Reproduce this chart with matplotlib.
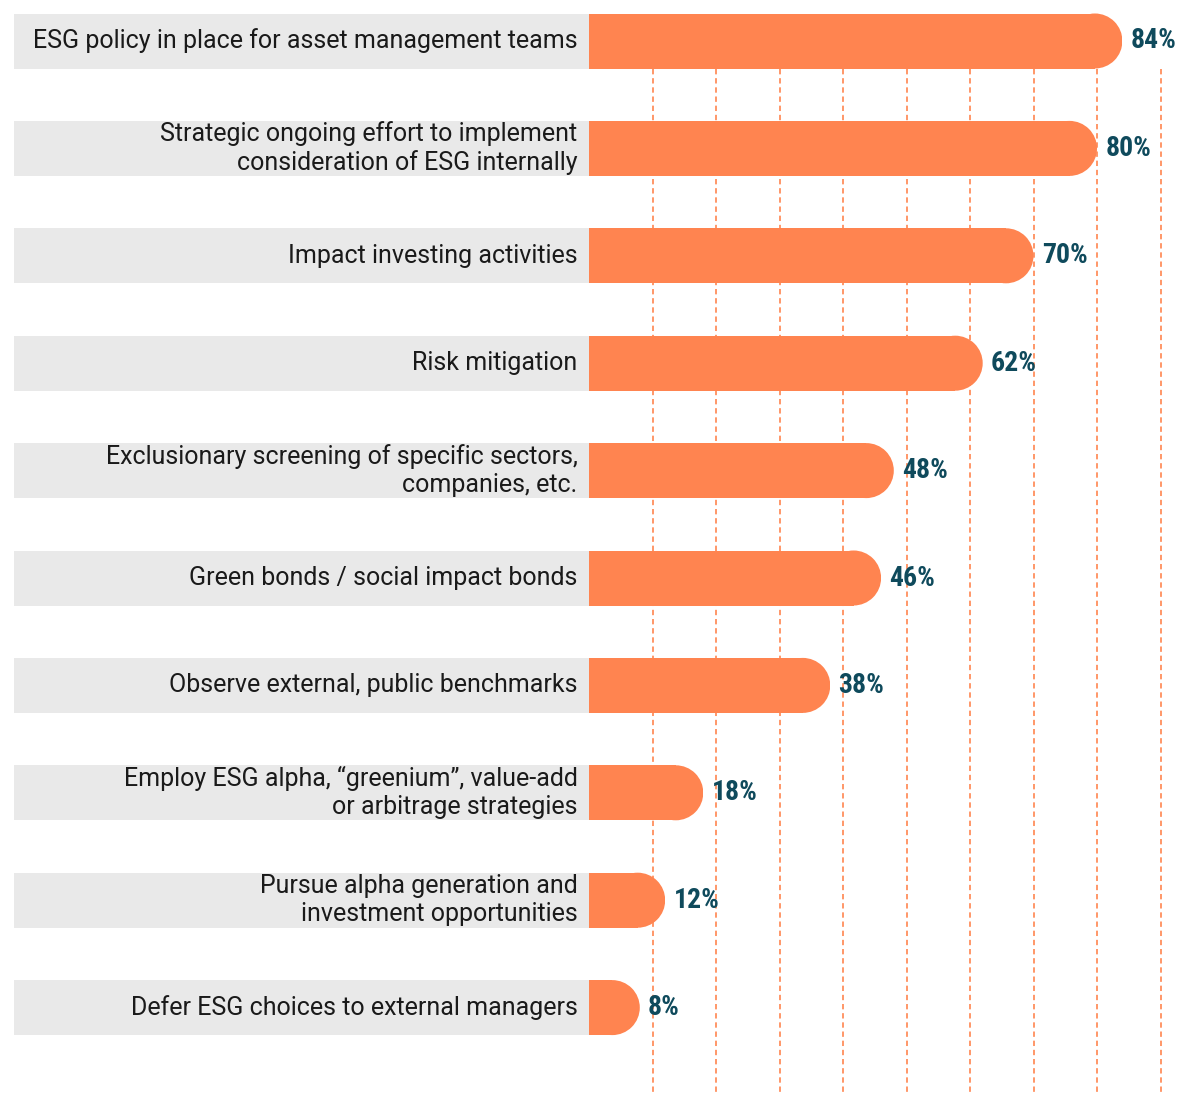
import matplotlib.pyplot as plt
from matplotlib.patches import Rectangle, Ellipse
from matplotlib import font_manager

# Survey answers, top to bottom
labels = [
    "ESG policy in place for asset management teams",
    "Strategic ongoing effort to implement\nconsideration of ESG internally",
    "Impact investing activities",
    "Risk mitigation",
    "Exclusionary screening of specific sectors,\ncompanies, etc.",
    "Green bonds / social impact bonds",
    "Observe external, public benchmarks",
    "Employ ESG alpha, \u201cgreenium\u201d, value-add\nor arbitrage strategies",
    "Pursue alpha generation and\ninvestment opportunities",
    "Defer ESG choices to external managers",
]
values = [84, 80, 70, 62, 48, 46, 38, 18, 12, 8]
grid_ticks = [10, 20, 30, 40, 50, 60, 70, 80, 90]

bar_color = "#ff8450"
box_color = "#e9e9e9"
value_color = "#0f4a5c"
grid_color = "#ff7a40"

# pick a narrow bold face for the percentages if one is installed
names = {f.name for f in font_manager.fontManager.ttflist}
narrow = "DejaVu Sans"
for cand in ["Roboto Condensed", "Liberation Sans Narrow", "DejaVu Sans Condensed"]:
    if cand in names:
        narrow = cand
        break

W, H, dpi = 1177, 1095, 100
fig = plt.figure(figsize=(W / dpi, H / dpi), dpi=dpi)
ax = fig.add_axes([0, 0, 1, 1])

# pixel geometry -> data scales
x0_px, px_per_pct = 589, 6.35
row0_px, row_px = 41, 107.4
ax.set_xlim(-x0_px / px_per_pct, (W - x0_px) / px_per_pct)
ax.set_ylim((H - row0_px) / row_px, -row0_px / row_px)
ax.axis("off")

bar_h = 55 / row_px
rx = (55 / 2) / px_per_pct  # semicircle end in x units
box_left = (14 - x0_px) / px_per_pct

# dashed guides behind the bars
for t in grid_ticks:
    ax.vlines(t, bar_h / 2, (H - row0_px) / row_px, color=grid_color,
              linestyle=(0, (3.5, 2.5)), linewidth=1.1, zorder=1)

for i, (lab, v) in enumerate(zip(labels, values)):
    ax.add_patch(Rectangle((box_left, i - bar_h / 2), -box_left, bar_h,
                           facecolor=box_color, edgecolor="none", zorder=2))
    ax.add_patch(Rectangle((0, i - bar_h / 2), max(v - rx, 0), bar_h,
                           facecolor=bar_color, edgecolor="none", zorder=3))
    cap = Ellipse((v - rx, i), 2 * rx, bar_h,
                  facecolor=bar_color, edgecolor="none", zorder=3)
    ax.add_patch(cap)
    # keep the rounded end from spilling left of the baseline
    clip = Rectangle((0, i - bar_h), v, 2 * bar_h, transform=ax.transData)
    cap.set_clip_path(clip)
    ax.text(-1.8, i, lab, ha="right", va="center", fontsize=18,
            family="Roboto", color="#1a1a1a", linespacing=1.2, zorder=4)
    ax.text(v + 1.3, i, f"{v}%", ha="left", va="center", fontsize=20,
            family=narrow, fontweight="bold", color=value_color, zorder=4)

fig.savefig("out.png", dpi=dpi)
